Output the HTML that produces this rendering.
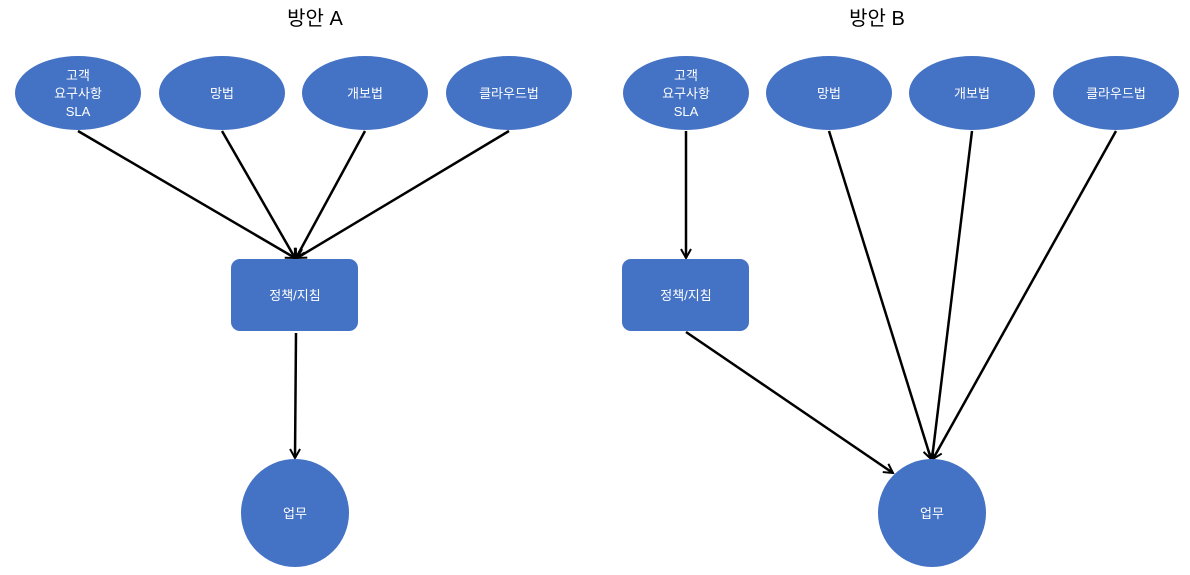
<!DOCTYPE html>
<html><head><meta charset="utf-8"><style>
html,body{margin:0;padding:0;background:#fff;}
svg{display:block;font-family:"Liberation Sans","Noto Sans CJK KR",sans-serif;}
</style></head><body>
<svg width="1190" height="575" viewBox="0 0 1190 575" xmlns="http://www.w3.org/2000/svg">
<defs>
<marker id="a" markerWidth="12" markerHeight="12" refX="10" refY="6" orient="auto" markerUnits="userSpaceOnUse">
<path d="M1,1 L10,6 L1,11" fill="none" stroke="#000" stroke-width="2"/>
</marker>
</defs>
<g fill="#000" font-size="20" text-anchor="middle">
<text x="315" y="25">방안 A</text>
<text x="877" y="25">방안 B</text>
</g>
<g stroke="#000" stroke-width="2.5" fill="none" marker-end="url(#a)">
<line x1="78" y1="131" x2="295" y2="258"/>
<line x1="222" y1="131" x2="295" y2="258"/>
<line x1="365" y1="131" x2="296" y2="258"/>
<line x1="509" y1="131" x2="297" y2="258"/>
<line x1="296" y1="333" x2="295" y2="458"/>
<line x1="686" y1="131" x2="686" y2="258"/>
<line x1="686" y1="332" x2="893" y2="473"/>
<line x1="829" y1="131" x2="931" y2="459"/>
<line x1="972" y1="131" x2="932" y2="459"/>
<line x1="1116" y1="131" x2="933" y2="459"/>
</g>
<g fill="#4472C4">
<ellipse cx="78" cy="93" rx="63" ry="37"/>
<ellipse cx="222" cy="93" rx="63" ry="37"/>
<ellipse cx="365" cy="93" rx="63" ry="37"/>
<ellipse cx="509" cy="93" rx="63" ry="37"/>
<rect x="231" y="259" width="127" height="72" rx="9"/>
<circle cx="295" cy="513" r="54"/>
<ellipse cx="686" cy="93" rx="63" ry="37"/>
<ellipse cx="829" cy="93" rx="63" ry="37"/>
<ellipse cx="972" cy="93" rx="63" ry="37"/>
<ellipse cx="1116" cy="93" rx="63" ry="37"/>
<rect x="622" y="259" width="127" height="72" rx="9"/>
<circle cx="932" cy="513" r="54"/>
</g>
<g fill="#fff" font-size="13" text-anchor="middle">
<text x="78" y="80">고객</text><text x="78" y="98">요구사항</text><text x="78" y="116">SLA</text>
<text x="222" y="98">망법</text>
<text x="365" y="98">개보법</text>
<text x="509" y="98">클라우드법</text>
<text x="295" y="300">정책/지침</text>
<text x="295" y="518">업무</text>
<text x="686" y="80">고객</text><text x="686" y="98">요구사항</text><text x="686" y="116">SLA</text>
<text x="829" y="98">망법</text>
<text x="972" y="98">개보법</text>
<text x="1116" y="98">클라우드법</text>
<text x="686" y="300">정책/지침</text>
<text x="932" y="518">업무</text>
</g>
</svg>
</body></html>
